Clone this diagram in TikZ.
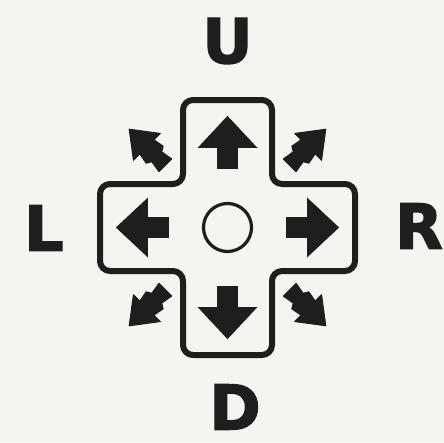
\documentclass[tikz,border=0pt]{standalone}
\usepackage{fontspec}
\setmainfont{DejaVu Sans}
\newfontfamily\heavyfont[FakeBold=2.2]{DejaVu Sans Bold}
\definecolor{bg}{HTML}{F4F4F2}
\definecolor{ink}{HTML}{1E1E1E}
\begin{document}
\begin{tikzpicture}[x=1pt,y=-1pt,
  letter/.style={inner sep=0pt,text=ink,font=\fontsize{62}{62}\heavyfont},
  padline/.style={draw=ink,line width=6pt,rounded corners=10pt,line join=round},
  bigarrow/.style={fill=ink,draw=ink,line width=0.8pt,line join=miter},
  smallarrow/.style={fill=ink,draw=ink,line width=1pt,line join=round}]
\fill[bg] (0,0) rectangle (444,442);
\useasboundingbox (0,0) rectangle (444,442);
\coordinate (c) at (227.5,227.5);
% cross outline
\draw[padline] (183,100) -- (272,100) -- (272,184) -- (355,184) -- (355,271)
  -- (272,271) -- (272,355) -- (183,355) -- (183,271) -- (100,271)
  -- (100,184) -- (183,184) -- cycle;
% centre circle
\node[draw=ink,line width=3.2pt,circle,minimum size=48pt,inner sep=0pt] (btn) at (c) {};
% main arrows
\foreach \r/\n in {0/up,-90/right,180/down,90/left}{
  \begin{scope}[shift={(c)},rotate=\r]
    \path[bigarrow] (0,-111) -- (29,-80) -- (10,-80) -- (10,-59) -- (-10,-59)
      -- (-10,-80) -- (-29,-80) -- cycle;
  \end{scope}
}
% diagonal arrows
\foreach \r in {45,-45,135,-135}{
  \begin{scope}[shift={(c)},rotate=\r]
    \path[smallarrow] (0,-139) -- (19,-114) -- (10,-114) -- (12,-103) -- (7,-100)
      -- (9,-88) -- (-9,-88) -- (-7,-100) -- (-12,-103) -- (-10,-114) -- (-19,-114) -- cycle;
  \end{scope}
}
% labels
\node[letter] (U) at (227.5,41) {U};
\node[letter] (L) at (44,228) {L};
\node[letter] (R) at (419,226) {R};
\node[letter] (D) at (235,407) {D};
\end{tikzpicture}
\end{document}
